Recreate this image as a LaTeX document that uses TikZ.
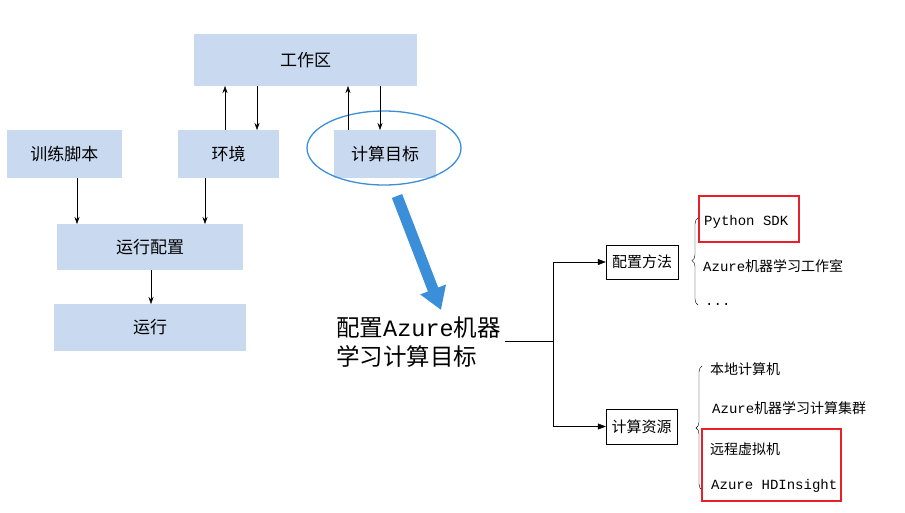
\documentclass[tikz,border=0pt]{standalone}
\usepackage{fontspec}
\setmainfont{Liberation Serif}
\newfontfamily\cjk{Noto Sans CJK SC}
\newfontfamily\mono{Liberation Mono}
\usetikzlibrary{arrows.meta,decorations.pathreplacing}
\definecolor{bx}{HTML}{C9DAF0}
\definecolor{ebl}{HTML}{3A8FD8}
\definecolor{rd}{HTML}{E8202A}
\begin{document}
\begin{tikzpicture}[x=1pt,y=-1pt,
 box/.style={fill=bx,draw=none,font=\cjk\fontsize{17}{20}\selectfont,inner sep=0},
 wbox/.style={draw=black,fill=white,font=\cjk\fontsize{15}{17}\selectfont,inner sep=2pt},
 arr/.style={-{Stealth[length=7pt,width=5pt]},thin},
 item/.style={anchor=west,font=\cjk\fontsize{14}{16}\selectfont,inner sep=0},
 mitem/.style={item,font=\mono\fontsize{14}{16}\selectfont},
 red/.style={draw=rd,line width=1.6pt}]
\useasboundingbox (0,0) rectangle (905,512);
\node[box,minimum width=223,minimum height=52] (ws) at (305.5,60) {工作区};
\node[box,minimum width=115,minimum height=48] (ts) at (64.5,154) {训练脚本};
\node[box,minimum width=101,minimum height=48] (env) at (228.5,154) {环境};
\node[box,minimum width=102,minimum height=48] (ct) at (385,154) {计算目标};
\draw[ebl,line width=1.3pt] (384,148) ellipse [x radius=77,y radius=37];
\node[box,minimum width=186,minimum height=46] (rc) at (150,247) {运行配置};
\node[box,minimum width=192,minimum height=47] (run) at (150,327.5) {运行};
\draw[arr] (225,130) -- (225,86);
\draw[arr] (257,86) -- (257,130);
\draw[arr] (348,130) -- (348,86);
\draw[arr] (380,86) -- (380,130);
\draw[arr] (77,178) -- (77,224);
\draw[arr] (205,178) -- (205,224);
\draw[arr] (151,270) -- (151,304);
\draw[ebl,line width=11pt,-{Triangle[length=22pt,width=26pt]}] (397,196) -- (441,310);
\node[anchor=west,align=left,font=\cjk\fontsize{23.5}{29}\selectfont,inner sep=0] (cfg) at (336,342) {配置{\mono Azure}机器\\学习计算目标};
\coordinate (j) at (553,341);
\node[wbox,minimum width=72,minimum height=34] (m1) at (642,262) {配置方法};
\node[wbox,minimum width=71,minimum height=35] (m2) at (641.5,426.5) {计算资源};
\draw (505,341) -- (j);
\draw[-{Triangle[length=8pt,width=6pt]}] (553,341) |- (m1.west);
\draw[-{Triangle[length=8pt,width=6pt]}] (553,341) |- (m2.west);
\draw[decorate,decoration={brace,amplitude=6pt,aspect=0.51}] (698,305) -- (698,218);
\draw[decorate,decoration={brace,amplitude=6pt,aspect=0.5}] (702,490) -- (702,366);
\node[mitem] (p1) at (704,222) {Python SDK};
\node[item] (p2) at (703,266) {{\mono Azure}机器学习工作室};
\node[mitem] (p3) at (705,304) {...};
\node[item] (q1) at (710,369) {本地计算机};
\node[item] (q2) at (712,408) {{\mono Azure}机器学习计算集群};
\node[item] (q3) at (710,449) {远程虚拟机};
\node[mitem] (q4) at (711,486) {Azure HDInsight};
\draw[red] (699,196) rectangle (799,242);
\draw[red] (702,429) rectangle (841,501);
\end{tikzpicture}
\end{document}
